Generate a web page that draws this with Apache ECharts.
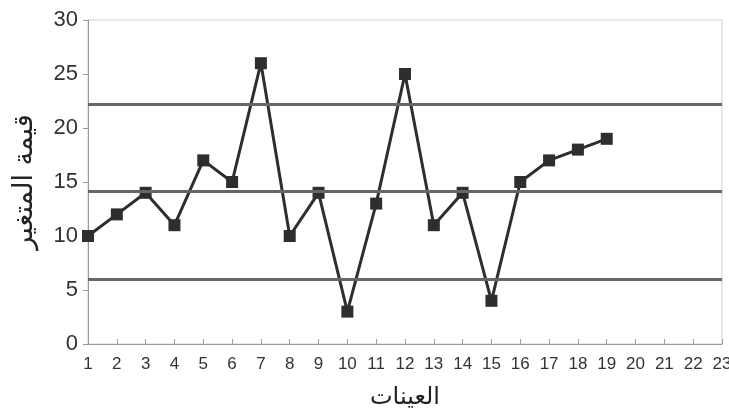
<!DOCTYPE html>
<html><head><meta charset="utf-8">
<script src="https://cdn.jsdelivr.net/npm/echarts@6/dist/echarts.min.js"></script>
<style>html,body{margin:0;padding:0;background:#fff}#c{width:729px;height:412px}</style>
</head><body><div id="c"></div>
<script>
const samples = [1,2,3,4,5,6,7,8,9,10,11,12,13,14,15,16,17,18,19];
const values = [10,12,14,11,17,15,26,10,14,3,13,25,11,14,4,15,17,18,19];
const controlLimits = [22.2, 14.1, 6];
const yTicks = [0,5,10,15,20,25,30];
const xName = 'العينات';
const yName = 'قيمة المتغير';

const chart = echarts.init(document.getElementById('c'));
chart.setOption({
  animation: false,
  grid: {left: 88, right: 7, top: 20, bottom: 68, show: true, borderColor: '#d0d0d0', borderWidth: 1,
         containLabel: false, outerBoundsMode: 'none'},
  xAxis: {
    type: 'value', min: 1, max: 23, interval: 1,
    name: xName, nameLocation: 'middle', nameGap: 42,
    nameTextStyle: {fontFamily: 'DejaVu Sans', fontSize: 24, color: '#222'},
    axisLine: {lineStyle: {color: '#999', width: 1}},
    axisTick: {inside: true, length: 5, lineStyle: {color: '#999'}},
    axisLabel: {fontFamily: 'Liberation Sans Narrow, Liberation Sans', fontSize: 17, color: '#333', margin: 12},
    splitLine: {show: false}
  },
  yAxis: {
    type: 'value', min: yTicks[0], max: yTicks[yTicks.length-1], interval: 5,
    name: yName, nameLocation: 'middle', nameGap: 50, nameRotate: 90,
    nameTextStyle: {fontFamily: 'DejaVu Sans', fontSize: 27, color: '#222'},
    axisLine: {show: true, lineStyle: {color: '#999', width: 1}},
    axisTick: {show: true, length: 5, lineStyle: {color: '#999'}},
    axisLabel: {fontFamily: 'Liberation Sans', fontSize: 22, color: '#333', margin: 10},
    splitLine: {show: false}
  },
  series: [{
    type: 'line',
    data: samples.map((s, i) => [s, values[i]]),
    symbol: 'rect', symbolSize: 12,
    lineStyle: {color: '#2e2e2e', width: 3},
    itemStyle: {color: '#2e2e2e'},
    markLine: {
      silent: true, symbol: 'none',
      label: {show: false},
      lineStyle: {color: '#666', width: 3, type: 'solid'},
      data: controlLimits.map(v => ({yAxis: v}))
    },
    z: 3
  }]
});
</script></body></html>
